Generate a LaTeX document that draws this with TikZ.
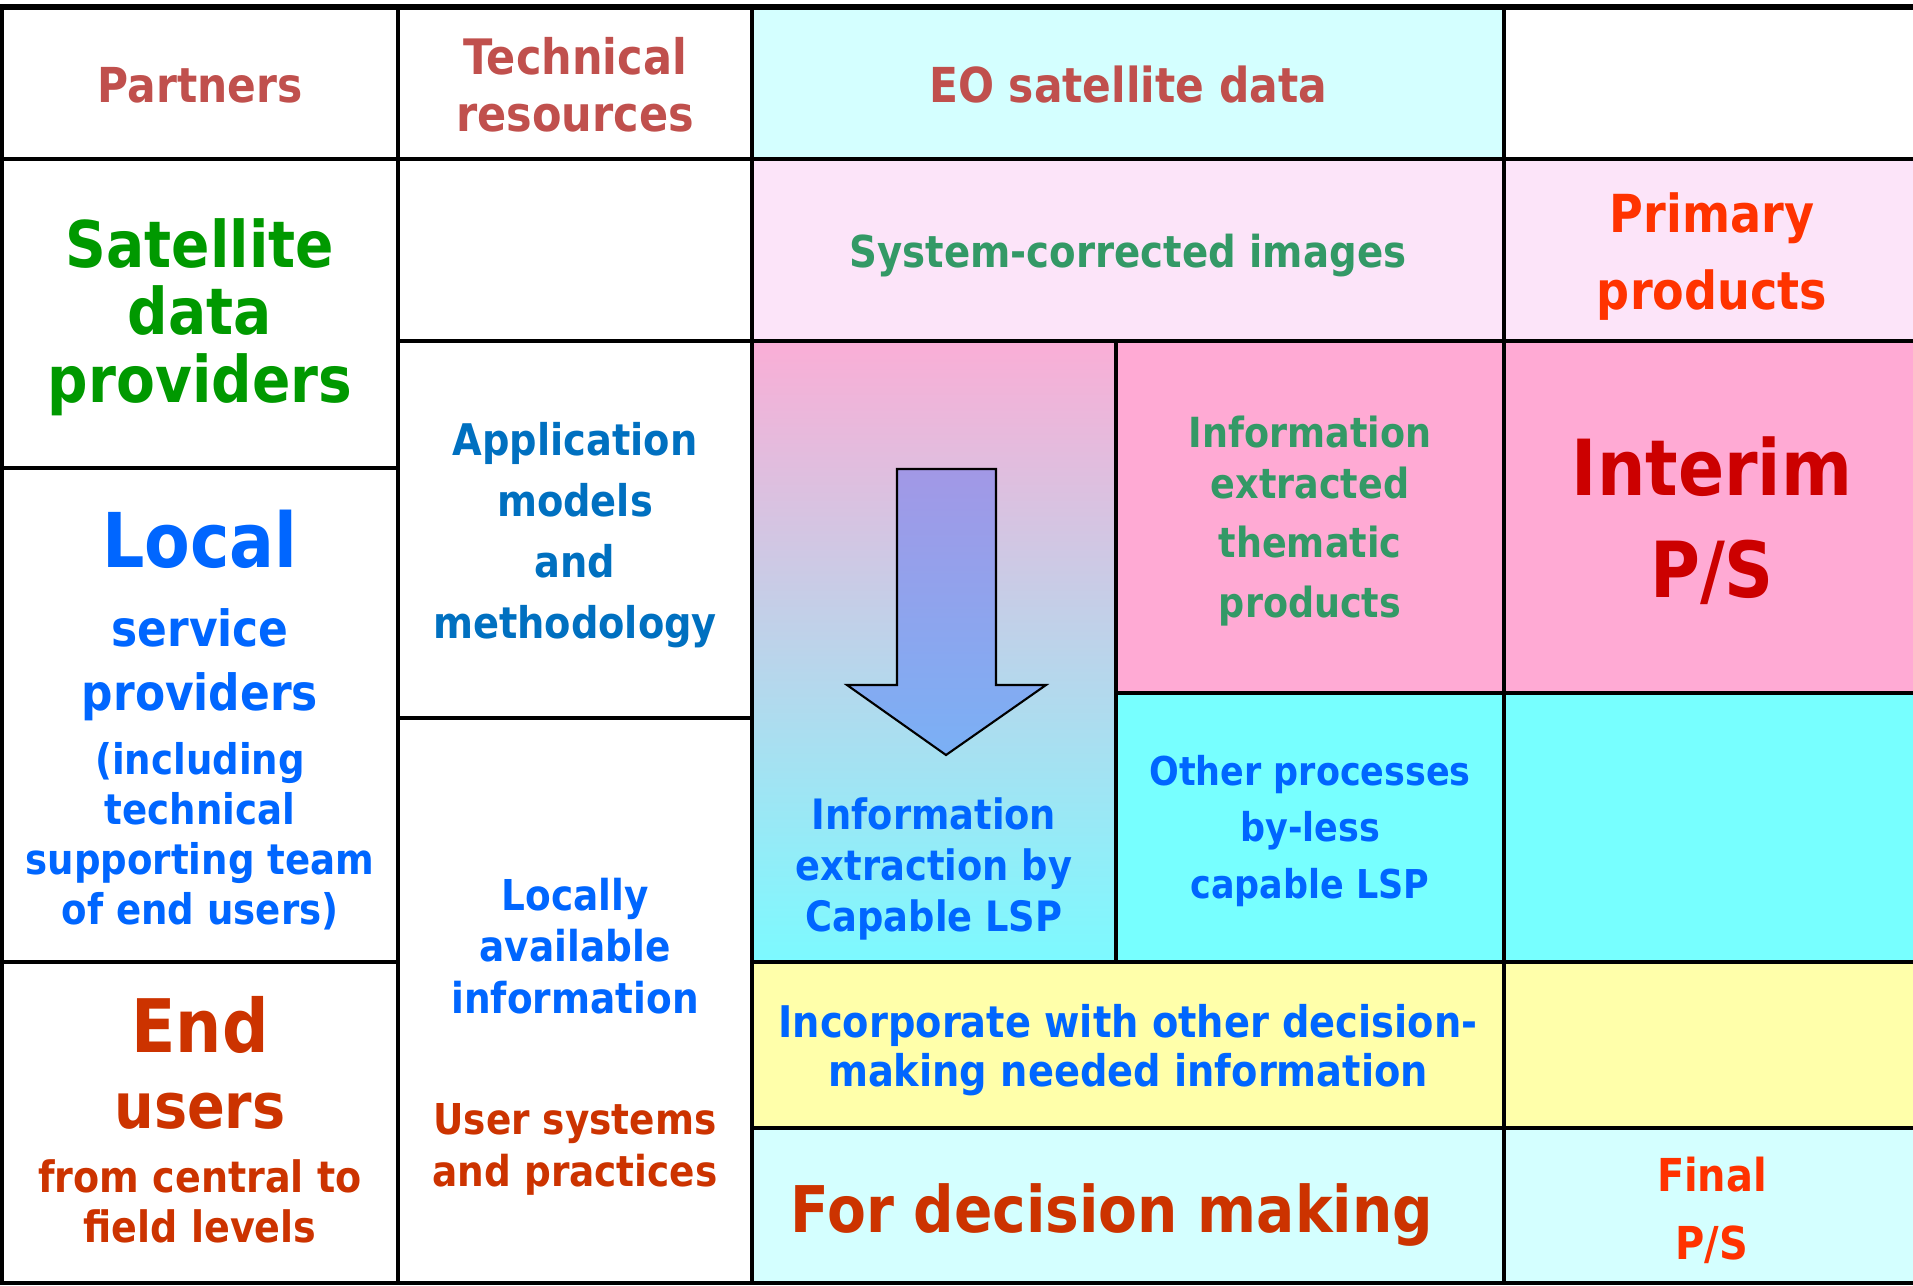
\documentclass[tikz,border=0pt]{standalone}
\usepackage{fontspec}
\setmainfont{DejaVu Sans}[FakeStretch=0.88]
\usepackage{xcolor}
\usepackage{tikz}
\usetikzlibrary{calc}

\definecolor{headred}{RGB}{192,80,77}
\definecolor{satgreen}{RGB}{0,153,0}
\definecolor{sysgreen}{RGB}{51,153,102}
\definecolor{prodorange}{RGB}{255,51,0}
\definecolor{interimred}{RGB}{204,0,0}
\definecolor{appblue}{RGB}{0,112,192}
\definecolor{lspblue}{RGB}{0,102,255}
\definecolor{userbrown}{RGB}{204,51,0}
\definecolor{palecyan}{RGB}{212,255,255}
\definecolor{palepink}{RGB}{252,228,249}
\definecolor{rosepink}{RGB}{255,170,212}
\definecolor{aqua}{RGB}{119,255,255}
\definecolor{paleyellow}{RGB}{255,255,170}
\definecolor{fadepink}{RGB}{250,174,214}
\definecolor{fadecyan}{RGB}{124,250,255}
\definecolor{arrowtop}{RGB}{162,152,230}
\definecolor{arrowbot}{RGB}{122,176,245}

\newcommand{\txtsize}[2]{\fontsize{#1}{#2}\selectfont\bfseries}

\tikzset{
  rule/.style={line width=1pt},
  lbl/.style={align=center, inner sep=0pt},
}

\begin{document}
\begin{tikzpicture}[x=0.01cm, y=-0.01cm]
\useasboundingbox (0,0) rectangle (1913,1285);

% cell backgrounds
\fill[palecyan] (752,7) rectangle (1504,159);
\fill[palepink] (752,159) rectangle (1913,341);
\shade[top color=fadepink, bottom color=fadecyan] (752,341) rectangle (1116,962);
\fill[rosepink] (1116,341) rectangle (1913,693);
\fill[aqua] (1116,693) rectangle (1913,962);
\fill[paleyellow] (752,962) rectangle (1913,1128);
\fill[palecyan] (752,1128) rectangle (1913,1283);

% table rules
\draw[rule, line width=1.6pt] (0,7) -- (1913,7);
\draw[rule] (2,159) -- (1913,159);
\draw[rule] (398,341) -- (1913,341);
\draw[rule] (2,468) -- (398,468);
\draw[rule] (1116,693) -- (1913,693);
\draw[rule] (398,718) -- (752,718);
\draw[rule] (2,962) -- (398,962);
\draw[rule] (752,962) -- (1913,962);
\draw[rule] (752,1128) -- (1913,1128);
\draw[rule, line width=1.2pt] (0,1283) -- (1913,1283);
\draw[rule] (2,7) -- (2,1283);
\draw[rule] (398,7) -- (398,1283);
\draw[rule] (752,7) -- (752,1283);
\draw[rule] (1116,341) -- (1116,962);
\draw[rule] (1504,7) -- (1504,1128);
\draw[rule, line width=1.3pt] (1504,1128) -- (1504,1283);

% block arrow
\shade[top color=arrowtop, bottom color=arrowbot, draw=black, line width=0.6pt]
  (897,469) -- (996,469) -- (996,685) -- (1046,685) -- (946,755)
  -- (847,685) -- (897,685) -- cycle;

% header row
\node[lbl, anchor=base, text=headred, font=\txtsize{13.7}{16}] (partners) at (200,103) {Partners};
\node[lbl, text=headred, font=\txtsize{13.9}{16.3}] (techres) at (575,85) {Technical\\resources};
\node[lbl, anchor=base, text=headred, font=\txtsize{13.7}{16}] (eodata) at (1128,103) {EO satellite data};

% partners column
\node[lbl, text=satgreen, font=\txtsize{18.3}{19.2}] (satprov) at (200,317) {Satellite\\data\\providers};
\node[lbl, anchor=base, text=lspblue, font=\txtsize{21.5}{24}] (local) at (200,567) {Local};
\node[lbl, text=lspblue, font=\txtsize{14.2}{18.2}] (servprov) at (200,665) {service\\providers};
\node[lbl, text=lspblue, font=\txtsize{12}{14.2}] (support) at (200,836) {(including\\technical\\supporting team\\of end users)};
\node[lbl, anchor=base, text=userbrown, font=\txtsize{21}{24}] (endw) at (200,1052) {End};
\node[lbl, anchor=base, text=userbrown, font=\txtsize{18}{20}] (usersw) at (200,1128) {users};
\node[lbl, text=userbrown, font=\txtsize{12.3}{14.2}] (levels) at (200,1201) {from central to\\field levels};

% technical resources column
\node[lbl, text=appblue, font=\txtsize{12.4}{17.3}] (appmodels) at (575,535) {Application\\models\\and\\methodology};
\node[lbl, text=lspblue, font=\txtsize{12.1}{14.6}] (localinfo) at (575,946) {Locally\\available\\information};
\node[lbl, text=userbrown, font=\txtsize{12.1}{14.8}] (usersys) at (575,1149) {User systems\\and practices};

% data and products
\node[lbl, anchor=base, text=sysgreen, font=\txtsize{12.5}{15}] (syscorr) at (1128,267) {System-corrected images};
\node[lbl, text=prodorange, font=\txtsize{14.9}{21.9}] (primary) at (1712,257) {Primary\\products};
\node[lbl, text=lspblue, font=\txtsize{11.9}{14.5}] (capable) at (934,869) {Information\\extraction by\\Capable LSP};
\node[lbl, text=sysgreen, font=\txtsize{11.8}{17}] (thematic) at (1310,521) {Information\\[-2.5pt]extracted\\thematic\\products};
\node[lbl, text=interimred, font=\txtsize{22}{29}] (interim) at (1712,521) {Interim\\P/S};
\node[lbl, text=lspblue, font=\txtsize{11.3}{16.1}] (lesscap) at (1310,831) {Other processes\\by-less\\capable LSP};
\node[lbl, text=lspblue, font=\txtsize{12.4}{14}] (incorp) at (1128,1050) {Incorporate with other decision-\\making needed information};
\node[lbl, anchor=base, text=userbrown, font=\txtsize{18.3}{20}] (decision) at (1112,1232) {For decision making};
\node[lbl, text=prodorange, font=\txtsize{12.9}{19.3}] (final) at (1712,1210) {Final\\P/S};
\end{tikzpicture}
\end{document}
